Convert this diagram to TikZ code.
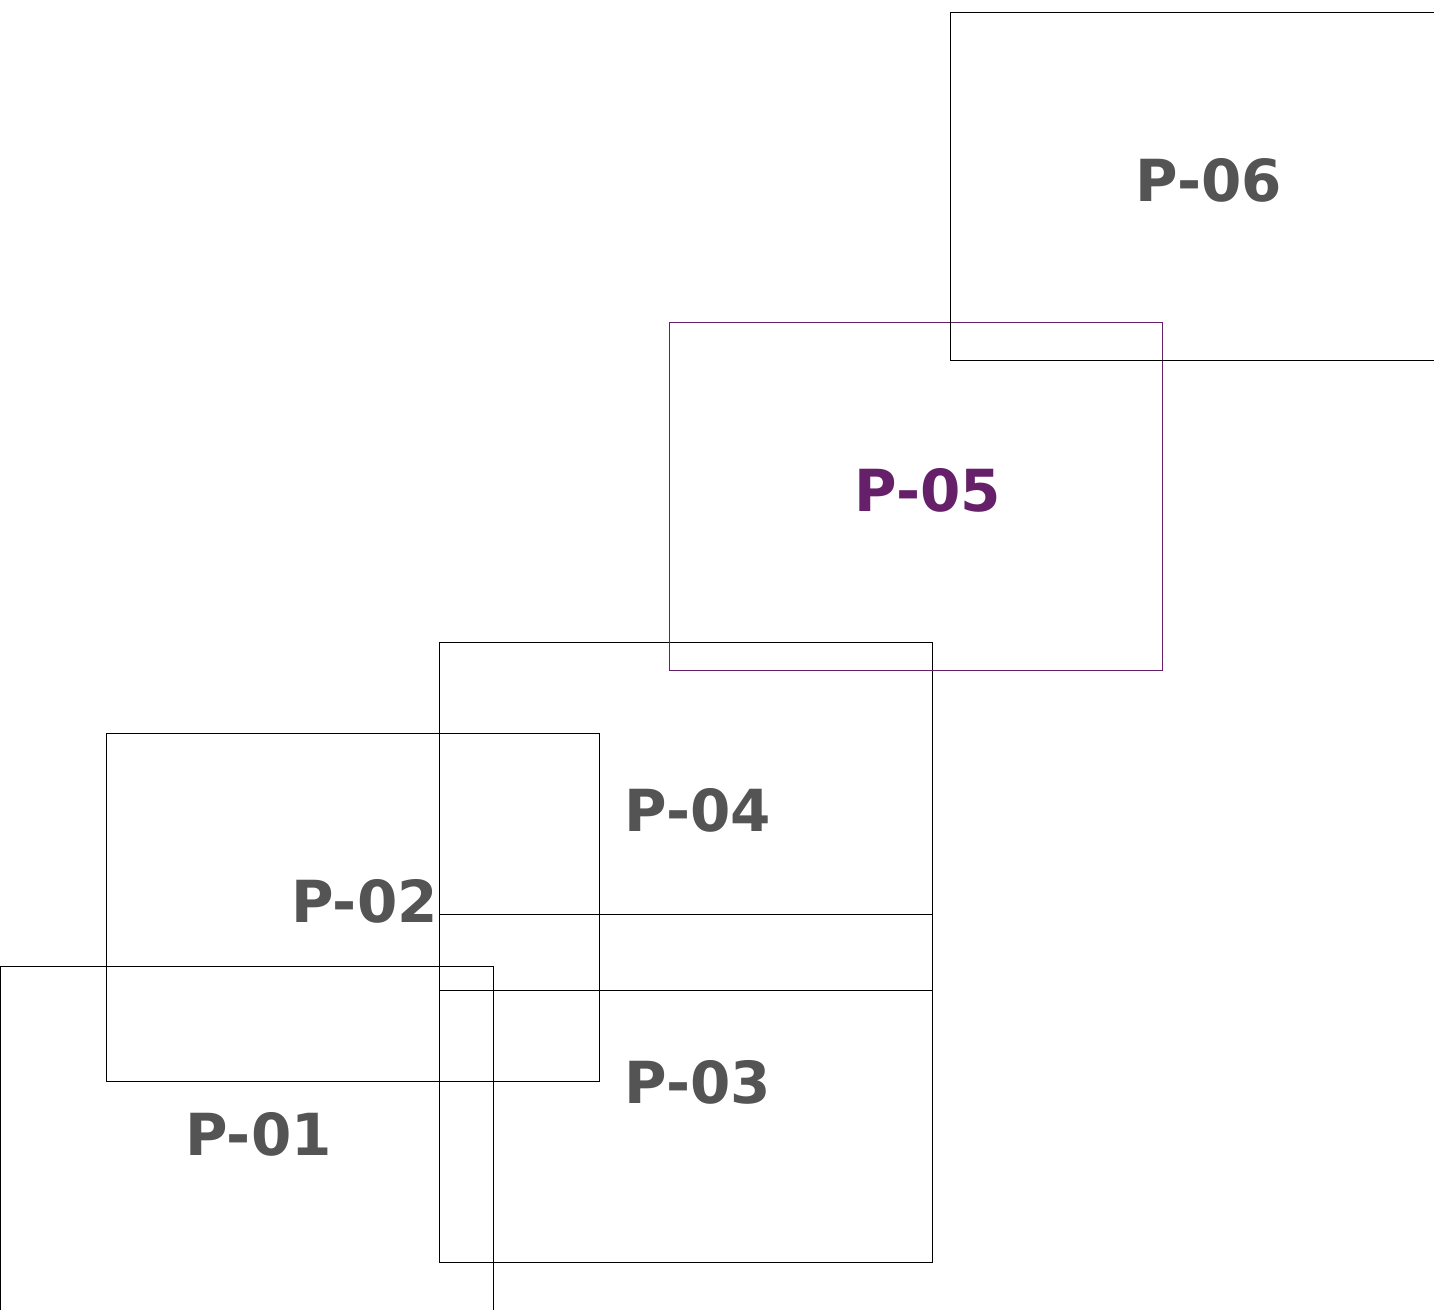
\documentclass[tikz,border=0pt]{standalone}
\usepackage{fontspec}
\setmainfont{DejaVu Sans}
\definecolor{plabel}{HTML}{545454}
\definecolor{pviolet}{HTML}{66206A}
\tikzset{
  pbox/.style={draw=black, line width=0.6pt, minimum width=246.5pt, minimum height=174pt, inner sep=0pt, anchor=north west},
  ptext/.style={font=\fontsize{29}{29}\selectfont\bfseries, text=plabel, inner sep=0pt}
}
\begin{document}
\begin{tikzpicture}[x=0.5pt,y=-0.5pt]
    \clip (0,0) rectangle (1434,1310);
    \useasboundingbox (0,0) rectangle (1434,1310);

    \node[pbox] (p1) at (0,966) {};
    \node[pbox] (p2) at (106,733) {};
    \node[pbox] (p3) at (439,914) {};
    \node[pbox] (p4) at (439,642) {};
    \node[pbox, draw=pviolet] (p5) at (669,322) {};
    \node[pbox] (p6) at (950,12) {};

    \node[ptext] (t1) at ([xshift=5.75pt,yshift=3pt]p1.center) {P-01};
    \node[ptext] (t2) at ([xshift=5.75pt,yshift=3pt]p2.center) {P-02};
    \node[ptext] (t3) at ([xshift=5.75pt,yshift=3pt]p3.center) {P-03};
    \node[ptext] (t4) at ([xshift=5.75pt,yshift=3pt]p4.center) {P-04};
    \node[ptext, text=pviolet] (t5) at ([xshift=5.75pt,yshift=3pt]p5.center) {P-05};
    \node[ptext] (t6) at ([xshift=5.75pt,yshift=3pt]p6.center) {P-06};
\end{tikzpicture}
\end{document}
